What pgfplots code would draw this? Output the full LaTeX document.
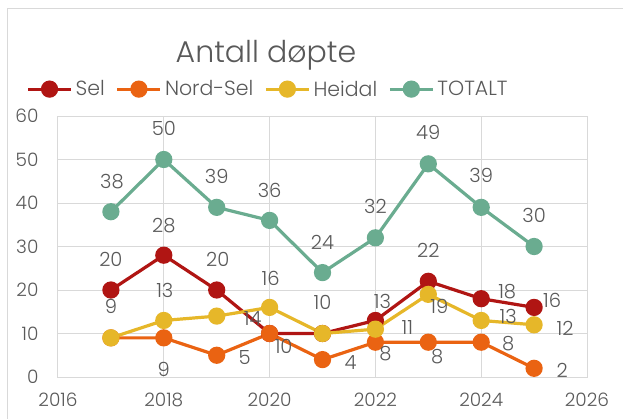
\documentclass[border=0pt]{standalone}
\usepackage{fontspec}
\setmainfont{Poppins}[UprightFont=* Light]
\usepackage{pgfplots}
\usepackage{pgfplotstable}
\pgfplotsset{compat=1.18}
\definecolor{selc}{HTML}{B01513}
\definecolor{nordc}{HTML}{EA6312}
\definecolor{heidalc}{HTML}{E6B729}
\definecolor{totc}{HTML}{6AAC90}
\definecolor{txt}{HTML}{595959}
\definecolor{grd}{HTML}{D9D9D9}

% x y dx dy lab   (dx, dy: label offset in pt; lab: label text)
\pgfplotstableread{
x y dx dy lab
2017 20 0 31 20
2018 28 0 30 28
2019 20 1 31 20
2020 10 0 0 {}
2021 10 0 31 10
2022 13 7 19 13
2023 22 0 31 22
2024 18 26 7 18
2025 16 18 7 16
}\selt
\pgfplotstableread{
x y dx dy lab
2017 9 0 0 {}
2018 9 0 -32 9
2019 5 28 -2 5
2020 10 14 -13 10
2021 4 28 -3 4
2022 8 10 -11 8
2023 8 9 -14 8
2024 8 27 -1 8
2025 2 28 -2 2
}\nordt
\pgfplotstableread{
x y dx dy lab
2017 9 0 31 9
2018 13 1 30 13
2019 14 36 -2 14
2020 16 1 29 16
2021 10 0 0 {}
2022 11 32 2 11
2023 19 11 -12 19
2024 13 27 4 13
2025 12 31 -4 12
}\heidalt
\pgfplotstableread{
x y dx dy lab
2017 38 1 30 38
2018 50 0 31 50
2019 39 0 31 39
2020 36 0 30 36
2021 24 0 30 24
2022 32 0 31 32
2023 49 0 31 49
2024 39 0 32 39
2025 30 0 31 30
}\tott

\def\ldx{0}\def\ldy{0}
\begin{document}
\begin{tikzpicture}
\useasboundingbox (0,0) rectangle (623pt,418pt);
\draw[grd, line width=1pt] (7.5pt,-10pt) rectangle (640pt,409.5pt);
\node[font=\fontsize{30}{30}\selectfont, text=txt, anchor=base, inner sep=0pt] at (266pt,355pt) {Antall døpte};
\begin{axis}[
  at={(58pt,41pt)}, anchor=south west,
  scale only axis, width=529pt, height=261pt,
  xmin=2016, xmax=2026, ymin=0, ymax=60,
  xtick={2016,2018,...,2026}, ytick={0,10,...,60},
  grid=major, grid style={draw=grd, line width=1pt},
  axis line style={draw=grd, line width=1pt},
  major tick length=0pt,
  /pgf/number format/1000 sep={},
  /pgf/number format/assume math mode=true,
  tick label style={font=\fontsize{18.5}{18.5}\selectfont, text=txt},
  yticklabel style={xshift=-16pt},
  xticklabel style={yshift=-12pt},
  clip=false,
  every axis plot/.append style={line width=3.2pt, mark=*, mark size=7pt, mark options={solid, line width=0pt}},
  point meta=explicit symbolic,
  nodes near coords,
  visualization depends on={\thisrow{dx} \as \ldx},
  visualization depends on={\thisrow{dy} \as \ldy},
  every node near coord/.append style={anchor=center, xshift=\ldx pt, yshift=\ldy pt, font=\fontsize{19.5}{19.5}\selectfont, text=txt, inner sep=0pt},
  legend columns=4,
  legend style={at={(0.397,1.103)}, anchor=center, draw=none, fill=none, font=\fontsize{20.5}{20.5}\selectfont, text=txt,
    /tikz/every even column/.append style={column sep=9pt},
    /tikz/every odd column/.append style={column sep=1pt}},
  legend image code/.code={\draw[mark repeat=2, mark phase=2, #1] plot coordinates {(0pt,0pt) (21.5pt,0pt) (43pt,0pt)};},
]
\addplot[selc, mark options={fill=selc}] table[x=x,y=y,meta=lab] {\selt};
\addlegendentry{Sel}
\addplot[nordc, mark options={fill=nordc}] table[x=x,y=y,meta=lab] {\nordt};
\addlegendentry{Nord-Sel}
\addplot[heidalc, mark options={fill=heidalc}] table[x=x,y=y,meta=lab] {\heidalt};
\addlegendentry{Heidal}
\addplot[totc, mark options={fill=totc}] table[x=x,y=y,meta=lab] {\tott};
\addlegendentry{TOTALT}
\end{axis}
\end{tikzpicture}
\end{document}
